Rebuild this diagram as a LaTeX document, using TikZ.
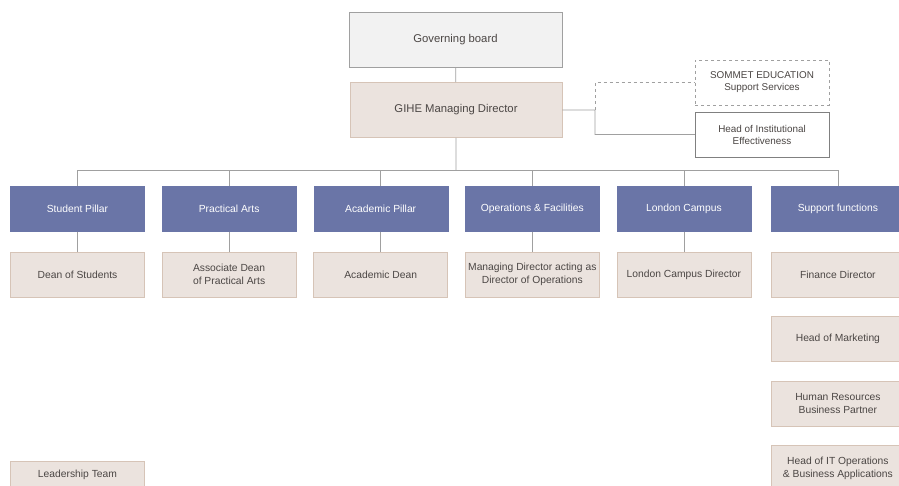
\documentclass[tikz,border=0pt]{standalone}
\usepackage{fontspec}
\setmainfont{Liberation Sans}
\usepackage{xcolor}
\usepackage{tikz}
\usetikzlibrary{arrows,positioning}
\definecolor{pillarblue}{RGB}{106,117,167}
\definecolor{rolefill}{RGB}{235,227,222}
\definecolor{roleline}{RGB}{214,196,183}
\definecolor{boardfill}{RGB}{242,242,242}
\definecolor{linegrey}{RGB}{160,160,160}
\definecolor{textgrey}{RGB}{75,70,68}

\begin{document}
\begin{tikzpicture}[x=1pt,y=-1pt,node distance=151.6pt,
    font=\fontsize{10.3}{13}\selectfont,
    box/.style={minimum width=134pt,minimum height=45pt,align=center,inner sep=1pt},
    pillar/.style={box,fill=pillarblue,draw=pillarblue,text=white},
    role/.style={box,fill=rolefill,draw=roleline,line width=0.8pt,text=textgrey},
    side/.style={box,fill=white,draw=gray,text=textgrey,font=\fontsize{9.9}{12}\selectfont},
    link/.style={draw=linegrey,line width=0.8pt}]
  \useasboundingbox (0,0) rectangle (899,486);
  \clip (0,0) rectangle (899,486);

  % top of the chart
  \node[box,minimum width=213pt,minimum height=55pt,fill=boardfill,draw=linegrey,text=textgrey,
        font=\fontsize{11.3}{13}\selectfont] (gb) at (455.5,39.5) {Governing board};
  \node[role,minimum width=212pt,minimum height=55pt,font=\fontsize{11.3}{13}\selectfont]
        (md) at (456,110) {GIHE Managing Director};
  \node[side,draw=linegrey,dashed] (sommet) at (762,82.5) {SOMMET EDUCATION\\Support Services};
  \node[side] (hie) at (762,134.5) {Head of Institutional\\Effectiveness};
  \coordinate (j) at (595,110);
  \coordinate (bus) at (456,170);

  % pillars
  \node[pillar] (p1) at (77.5,209) {Student Pillar};
  \node[pillar] (p2) [right of=p1] {Practical Arts};
  \node[pillar] (p3) [right of=p2] {Academic Pillar};
  \node[pillar] (p4) [right of=p3] {Operations \& Facilities};
  \node[pillar] (p5) [right of=p4] {London Campus};
  \node[pillar] (p6) [right of=p5,node distance=154pt] {Support functions};

  % roles
  \node[role] (d1) [below of=p1,node distance=65.5pt] {Dean of Students};
  \node[role] (d2) [below of=p2,node distance=65.5pt] {Associate Dean\\of Practical Arts};
  \node[role] (d3) [below of=p3,node distance=65.5pt] {Academic Dean};
  \node[role] (d4) [below of=p4,node distance=65.5pt] {Managing Director acting as\\Director of Operations};
  \node[role] (d5) [below of=p5,node distance=65.5pt] {London Campus Director};
  \node[role] (d6) [below of=p6,node distance=65.5pt] {Finance Director};
  \node[role] (d7) [below of=d6,node distance=64.5pt] {Head of Marketing};
  \node[role] (d8) [below of=d7,node distance=64.5pt] {Human Resources\\Business Partner};
  \node[role] (d9) [below of=d8,node distance=64.5pt] {Head of IT Operations\\\& Business Applications};
  \node[role,minimum height=28pt] (lt) at (77.5,475) {Leadership Team};

  \path[link] (gb) -- (md)
        (md) -- (bus)
        (md.east) -- (j) |- (hie.west);
  \path[link,dashed] (j) |- (sommet.west);
  \foreach \p in {1,...,6}
    \path[link] (bus) -| (p\p.north);
  \foreach \p in {1,...,5}
    \path[link] (p\p) -- (d\p);
\end{tikzpicture}
\end{document}
